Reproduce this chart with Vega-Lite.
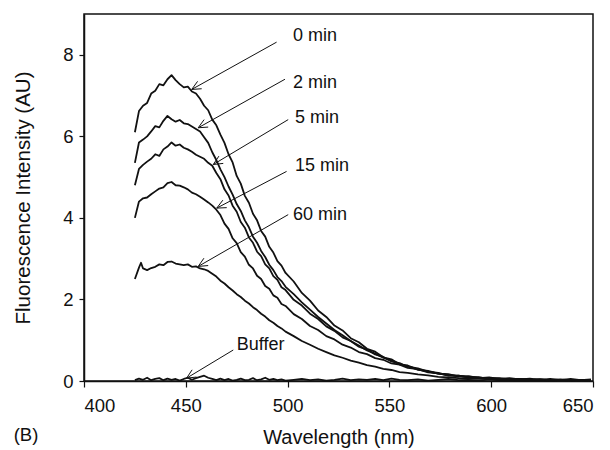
{
  "$schema": "https://vega.github.io/schema/vega-lite/v6.json",
  "width": 509,
  "height": 367,
  "autosize": {"type": "none"},
  "padding": {"left": 84, "top": 14, "right": 17, "bottom": 69},
  "background": "white",
  "title": {"text": "(B)", "orient": "bottom", "anchor": "start", "frame": "bounds", "offset": -22, "fontSize": 18.5, "fontWeight": "normal", "font": "Liberation Sans", "color": "#111"},
  "config": {
    "font": "Liberation Sans",
    "view": {"stroke": "#111", "strokeWidth": 1.5},
    "axis": {"grid": false, "domainColor": "#111", "domainWidth": 1.5, "tickColor": "#111", "tickWidth": 1.2, "tickSize": 5, "labelColor": "#111", "titleColor": "#111", "labelFontSize": 18.5, "titleFontSize": 20.5, "titleFontWeight": "normal", "labelFont": "Liberation Sans", "titleFont": "Liberation Sans"}
  },
  "datasets": {
    "spectra": [
      {"s":"A","w":425,"v":6.10},{"s":"A","w":427,"v":6.62},{"s":"A","w":429,"v":6.75},{"s":"A","w":431,"v":6.82},{"s":"A","w":433,"v":7.05},{"s":"A","w":435,"v":7.12},{"s":"A","w":437,"v":7.28},{"s":"A","w":439,"v":7.25},{"s":"A","w":441,"v":7.40},{"s":"A","w":443,"v":7.50},{"s":"A","w":445,"v":7.38},{"s":"A","w":447,"v":7.28},{"s":"A","w":449,"v":7.20},{"s":"A","w":451,"v":7.22},{"s":"A","w":453,"v":7.10},{"s":"A","w":455,"v":7.05},{"s":"A","w":457,"v":6.92},{"s":"A","w":459,"v":6.75},{"s":"A","w":461,"v":6.64},{"s":"A","w":463,"v":6.41},{"s":"A","w":465,"v":6.27},{"s":"A","w":467,"v":6.04},{"s":"A","w":469,"v":5.84},{"s":"A","w":471,"v":5.56},{"s":"A","w":473,"v":5.36},{"s":"A","w":475,"v":5.03},{"s":"A","w":477,"v":4.84},{"s":"A","w":479,"v":4.54},{"s":"A","w":481,"v":4.37},{"s":"A","w":483,"v":4.10},{"s":"A","w":485,"v":3.94},{"s":"A","w":487,"v":3.68},{"s":"A","w":489,"v":3.54},{"s":"A","w":491,"v":3.29},{"s":"A","w":493,"v":3.15},{"s":"A","w":495,"v":2.94},{"s":"A","w":497,"v":2.83},{"s":"A","w":499,"v":2.65},{"s":"A","w":503,"v":2.44},{"s":"A","w":507,"v":2.16},{"s":"A","w":511,"v":1.97},{"s":"A","w":515,"v":1.73},{"s":"A","w":519,"v":1.57},{"s":"A","w":523,"v":1.36},{"s":"A","w":527,"v":1.24},{"s":"A","w":531,"v":1.05},{"s":"A","w":535,"v":0.95},{"s":"A","w":539,"v":0.79},{"s":"A","w":543,"v":0.72},{"s":"A","w":547,"v":0.58},{"s":"A","w":551,"v":0.53},{"s":"A","w":555,"v":0.41},{"s":"A","w":559,"v":0.38},{"s":"A","w":564,"v":0.28},{"s":"A","w":569,"v":0.25},{"s":"A","w":574,"v":0.18},{"s":"A","w":579,"v":0.17},{"s":"A","w":584,"v":0.11},{"s":"A","w":589,"v":0.12},{"s":"A","w":594,"v":0.07},{"s":"A","w":599,"v":0.09},{"s":"A","w":604,"v":0.05},{"s":"A","w":609,"v":0.07},{"s":"A","w":614,"v":0.04},{"s":"A","w":619,"v":0.06},{"s":"A","w":624,"v":0.03},{"s":"A","w":629,"v":0.05},{"s":"A","w":634,"v":0.02},{"s":"A","w":639,"v":0.05},{"s":"A","w":644,"v":0.02},{"s":"A","w":649,"v":0.04},
      {"s":"B","w":425,"v":5.35},{"s":"B","w":427,"v":5.85},{"s":"B","w":429,"v":5.92},{"s":"B","w":431,"v":6.00},{"s":"B","w":433,"v":6.12},{"s":"B","w":435,"v":6.25},{"s":"B","w":437,"v":6.22},{"s":"B","w":439,"v":6.38},{"s":"B","w":441,"v":6.50},{"s":"B","w":443,"v":6.42},{"s":"B","w":445,"v":6.36},{"s":"B","w":447,"v":6.40},{"s":"B","w":449,"v":6.32},{"s":"B","w":451,"v":6.30},{"s":"B","w":453,"v":6.24},{"s":"B","w":455,"v":6.18},{"s":"B","w":457,"v":6.12},{"s":"B","w":459,"v":5.98},{"s":"B","w":461,"v":5.84},{"s":"B","w":463,"v":5.61},{"s":"B","w":465,"v":5.42},{"s":"B","w":467,"v":5.19},{"s":"B","w":469,"v":5.00},{"s":"B","w":471,"v":4.77},{"s":"B","w":473,"v":4.57},{"s":"B","w":475,"v":4.34},{"s":"B","w":477,"v":4.17},{"s":"B","w":479,"v":3.94},{"s":"B","w":481,"v":3.77},{"s":"B","w":483,"v":3.54},{"s":"B","w":485,"v":3.39},{"s":"B","w":487,"v":3.19},{"s":"B","w":489,"v":3.04},{"s":"B","w":491,"v":2.85},{"s":"B","w":493,"v":2.72},{"s":"B","w":495,"v":2.55},{"s":"B","w":497,"v":2.45},{"s":"B","w":499,"v":2.31},{"s":"B","w":503,"v":2.13},{"s":"B","w":507,"v":1.93},{"s":"B","w":511,"v":1.75},{"s":"B","w":515,"v":1.57},{"s":"B","w":519,"v":1.41},{"s":"B","w":523,"v":1.25},{"s":"B","w":527,"v":1.12},{"s":"B","w":531,"v":0.98},{"s":"B","w":535,"v":0.87},{"s":"B","w":539,"v":0.75},{"s":"B","w":543,"v":0.67},{"s":"B","w":547,"v":0.57},{"s":"B","w":551,"v":0.50},{"s":"B","w":555,"v":0.41},{"s":"B","w":559,"v":0.36},{"s":"B","w":564,"v":0.28},{"s":"B","w":569,"v":0.23},{"s":"B","w":574,"v":0.18},{"s":"B","w":579,"v":0.15},{"s":"B","w":584,"v":0.12},{"s":"B","w":589,"v":0.10},{"s":"B","w":594,"v":0.08},{"s":"B","w":599,"v":0.07},{"s":"B","w":604,"v":0.05},{"s":"B","w":609,"v":0.05},{"s":"B","w":614,"v":0.04},{"s":"B","w":619,"v":0.04},{"s":"B","w":624,"v":0.03},{"s":"B","w":629,"v":0.03},{"s":"B","w":634,"v":0.04},{"s":"B","w":639,"v":0.02},{"s":"B","w":644,"v":0.03},{"s":"B","w":649,"v":0.02},
      {"s":"C","w":425,"v":4.80},{"s":"C","w":427,"v":5.20},{"s":"C","w":429,"v":5.30},{"s":"C","w":431,"v":5.38},{"s":"C","w":433,"v":5.45},{"s":"C","w":435,"v":5.56},{"s":"C","w":437,"v":5.52},{"s":"C","w":439,"v":5.68},{"s":"C","w":441,"v":5.75},{"s":"C","w":443,"v":5.85},{"s":"C","w":445,"v":5.77},{"s":"C","w":447,"v":5.80},{"s":"C","w":449,"v":5.72},{"s":"C","w":451,"v":5.68},{"s":"C","w":453,"v":5.62},{"s":"C","w":455,"v":5.55},{"s":"C","w":457,"v":5.50},{"s":"C","w":459,"v":5.45},{"s":"C","w":461,"v":5.35},{"s":"C","w":463,"v":5.28},{"s":"C","w":465,"v":5.10},{"s":"C","w":467,"v":4.95},{"s":"C","w":469,"v":4.70},{"s":"C","w":471,"v":4.55},{"s":"C","w":473,"v":4.30},{"s":"C","w":475,"v":4.15},{"s":"C","w":477,"v":3.90},{"s":"C","w":479,"v":3.76},{"s":"C","w":481,"v":3.52},{"s":"C","w":483,"v":3.39},{"s":"C","w":485,"v":3.17},{"s":"C","w":487,"v":3.06},{"s":"C","w":489,"v":2.86},{"s":"C","w":491,"v":2.76},{"s":"C","w":493,"v":2.57},{"s":"C","w":495,"v":2.48},{"s":"C","w":497,"v":2.30},{"s":"C","w":499,"v":2.23},{"s":"C","w":503,"v":1.99},{"s":"C","w":507,"v":1.85},{"s":"C","w":511,"v":1.65},{"s":"C","w":515,"v":1.52},{"s":"C","w":519,"v":1.34},{"s":"C","w":523,"v":1.23},{"s":"C","w":527,"v":1.07},{"s":"C","w":531,"v":0.98},{"s":"C","w":535,"v":0.84},{"s":"C","w":539,"v":0.77},{"s":"C","w":543,"v":0.65},{"s":"C","w":547,"v":0.59},{"s":"C","w":551,"v":0.48},{"s":"C","w":555,"v":0.44},{"s":"C","w":559,"v":0.35},{"s":"C","w":564,"v":0.31},{"s":"C","w":569,"v":0.23},{"s":"C","w":574,"v":0.20},{"s":"C","w":579,"v":0.14},{"s":"C","w":584,"v":0.13},{"s":"C","w":589,"v":0.09},{"s":"C","w":594,"v":0.09},{"s":"C","w":599,"v":0.06},{"s":"C","w":604,"v":0.07},{"s":"C","w":609,"v":0.04},{"s":"C","w":614,"v":0.05},{"s":"C","w":619,"v":0.03},{"s":"C","w":624,"v":0.04},{"s":"C","w":629,"v":0.02},{"s":"C","w":634,"v":0.03},{"s":"C","w":639,"v":0.03},{"s":"C","w":644,"v":0.02},{"s":"C","w":649,"v":0.03},
      {"s":"D","w":425,"v":4.00},{"s":"D","w":427,"v":4.40},{"s":"D","w":429,"v":4.48},{"s":"D","w":431,"v":4.50},{"s":"D","w":433,"v":4.58},{"s":"D","w":435,"v":4.65},{"s":"D","w":437,"v":4.72},{"s":"D","w":439,"v":4.75},{"s":"D","w":441,"v":4.85},{"s":"D","w":443,"v":4.88},{"s":"D","w":445,"v":4.80},{"s":"D","w":447,"v":4.79},{"s":"D","w":449,"v":4.75},{"s":"D","w":451,"v":4.70},{"s":"D","w":453,"v":4.62},{"s":"D","w":455,"v":4.58},{"s":"D","w":457,"v":4.52},{"s":"D","w":459,"v":4.45},{"s":"D","w":461,"v":4.38},{"s":"D","w":463,"v":4.30},{"s":"D","w":465,"v":4.20},{"s":"D","w":467,"v":4.07},{"s":"D","w":469,"v":3.86},{"s":"D","w":471,"v":3.73},{"s":"D","w":473,"v":3.50},{"s":"D","w":475,"v":3.38},{"s":"D","w":477,"v":3.16},{"s":"D","w":479,"v":3.05},{"s":"D","w":481,"v":2.85},{"s":"D","w":483,"v":2.76},{"s":"D","w":485,"v":2.58},{"s":"D","w":487,"v":2.50},{"s":"D","w":489,"v":2.33},{"s":"D","w":491,"v":2.26},{"s":"D","w":493,"v":2.10},{"s":"D","w":495,"v":2.04},{"s":"D","w":497,"v":1.89},{"s":"D","w":499,"v":1.84},{"s":"D","w":503,"v":1.64},{"s":"D","w":507,"v":1.52},{"s":"D","w":511,"v":1.35},{"s":"D","w":515,"v":1.25},{"s":"D","w":519,"v":1.10},{"s":"D","w":523,"v":1.02},{"s":"D","w":527,"v":0.89},{"s":"D","w":531,"v":0.82},{"s":"D","w":535,"v":0.71},{"s":"D","w":539,"v":0.66},{"s":"D","w":543,"v":0.56},{"s":"D","w":547,"v":0.52},{"s":"D","w":551,"v":0.43},{"s":"D","w":555,"v":0.40},{"s":"D","w":559,"v":0.32},{"s":"D","w":564,"v":0.29},{"s":"D","w":569,"v":0.21},{"s":"D","w":574,"v":0.19},{"s":"D","w":579,"v":0.13},{"s":"D","w":584,"v":0.13},{"s":"D","w":589,"v":0.08},{"s":"D","w":594,"v":0.09},{"s":"D","w":599,"v":0.05},{"s":"D","w":604,"v":0.06},{"s":"D","w":609,"v":0.03},{"s":"D","w":614,"v":0.05},{"s":"D","w":619,"v":0.02},{"s":"D","w":624,"v":0.04},{"s":"D","w":629,"v":0.02},{"s":"D","w":634,"v":0.03},{"s":"D","w":639,"v":0.01},{"s":"D","w":644,"v":0.03},{"s":"D","w":649,"v":0.02},
      {"s":"E","w":425,"v":2.50},{"s":"E","w":427,"v":2.78},{"s":"E","w":428,"v":2.90},{"s":"E","w":429,"v":2.76},{"s":"E","w":431,"v":2.72},{"s":"E","w":433,"v":2.77},{"s":"E","w":435,"v":2.80},{"s":"E","w":437,"v":2.86},{"s":"E","w":439,"v":2.84},{"s":"E","w":441,"v":2.92},{"s":"E","w":443,"v":2.93},{"s":"E","w":445,"v":2.88},{"s":"E","w":447,"v":2.86},{"s":"E","w":449,"v":2.84},{"s":"E","w":451,"v":2.86},{"s":"E","w":453,"v":2.80},{"s":"E","w":455,"v":2.81},{"s":"E","w":457,"v":2.76},{"s":"E","w":459,"v":2.74},{"s":"E","w":461,"v":2.70},{"s":"E","w":463,"v":2.63},{"s":"E","w":465,"v":2.56},{"s":"E","w":467,"v":2.46},{"s":"E","w":469,"v":2.39},{"s":"E","w":471,"v":2.30},{"s":"E","w":473,"v":2.22},{"s":"E","w":475,"v":2.13},{"s":"E","w":477,"v":2.06},{"s":"E","w":479,"v":1.97},{"s":"E","w":481,"v":1.90},{"s":"E","w":483,"v":1.81},{"s":"E","w":485,"v":1.74},{"s":"E","w":487,"v":1.65},{"s":"E","w":489,"v":1.58},{"s":"E","w":491,"v":1.49},{"s":"E","w":493,"v":1.43},{"s":"E","w":495,"v":1.35},{"s":"E","w":497,"v":1.29},{"s":"E","w":499,"v":1.21},{"s":"E","w":503,"v":1.10},{"s":"E","w":507,"v":0.98},{"s":"E","w":511,"v":0.89},{"s":"E","w":515,"v":0.79},{"s":"E","w":519,"v":0.71},{"s":"E","w":523,"v":0.63},{"s":"E","w":527,"v":0.57},{"s":"E","w":531,"v":0.50},{"s":"E","w":535,"v":0.45},{"s":"E","w":539,"v":0.39},{"s":"E","w":543,"v":0.35},{"s":"E","w":547,"v":0.30},{"s":"E","w":551,"v":0.27},{"s":"E","w":555,"v":0.22},{"s":"E","w":559,"v":0.20},{"s":"E","w":564,"v":0.16},{"s":"E","w":569,"v":0.14},{"s":"E","w":574,"v":0.10},{"s":"E","w":579,"v":0.09},{"s":"E","w":584,"v":0.07},{"s":"E","w":589,"v":0.06},{"s":"E","w":594,"v":0.05},{"s":"E","w":599,"v":0.05},{"s":"E","w":604,"v":0.03},{"s":"E","w":609,"v":0.03},{"s":"E","w":614,"v":0.04},{"s":"E","w":619,"v":0.02},{"s":"E","w":624,"v":0.03},{"s":"E","w":629,"v":0.01},{"s":"E","w":634,"v":0.03},{"s":"E","w":639,"v":0.02},{"s":"E","w":644,"v":0.01},{"s":"E","w":649,"v":0.02},
      {"s":"F","w":425,"v":0.02},{"s":"F","w":427,"v":0.06},{"s":"F","w":429,"v":0.03},{"s":"F","w":431,"v":0.08},{"s":"F","w":433,"v":0.02},{"s":"F","w":435,"v":0.05},{"s":"F","w":437,"v":0.07},{"s":"F","w":439,"v":0.02},{"s":"F","w":441,"v":0.06},{"s":"F","w":443,"v":0.03},{"s":"F","w":445,"v":0.05},{"s":"F","w":447,"v":0.01},{"s":"F","w":449,"v":0.05},{"s":"F","w":451,"v":0.08},{"s":"F","w":453,"v":0.03},{"s":"F","w":455,"v":0.07},{"s":"F","w":457,"v":0.10},{"s":"F","w":459,"v":0.13},{"s":"F","w":461,"v":0.08},{"s":"F","w":463,"v":0.05},{"s":"F","w":465,"v":0.02},{"s":"F","w":467,"v":0.06},{"s":"F","w":469,"v":0.02},{"s":"F","w":471,"v":0.05},{"s":"F","w":473,"v":0.01},{"s":"F","w":475,"v":0.03},{"s":"F","w":477,"v":0.06},{"s":"F","w":479,"v":0.02},{"s":"F","w":481,"v":0.03},{"s":"F","w":483,"v":0.07},{"s":"F","w":485,"v":0.02},{"s":"F","w":487,"v":0.04},{"s":"F","w":489,"v":0.08},{"s":"F","w":491,"v":0.03},{"s":"F","w":493,"v":0.05},{"s":"F","w":495,"v":0.02},{"s":"F","w":497,"v":0.04},{"s":"F","w":499,"v":0.01},{"s":"F","w":503,"v":0.03},{"s":"F","w":507,"v":0.05},{"s":"F","w":511,"v":0.02},{"s":"F","w":515,"v":0.04},{"s":"F","w":519,"v":0.01},{"s":"F","w":523,"v":0.03},{"s":"F","w":527,"v":0.06},{"s":"F","w":531,"v":0.02},{"s":"F","w":535,"v":0.04},{"s":"F","w":539,"v":0.03},{"s":"F","w":543,"v":0.05},{"s":"F","w":547,"v":0.02},{"s":"F","w":551,"v":0.06},{"s":"F","w":555,"v":0.03},{"s":"F","w":559,"v":0.02},{"s":"F","w":564,"v":0.04},{"s":"F","w":569,"v":0.01},{"s":"F","w":574,"v":0.03},{"s":"F","w":579,"v":0.05},{"s":"F","w":584,"v":0.02},{"s":"F","w":589,"v":0.03},{"s":"F","w":594,"v":0.01},{"s":"F","w":599,"v":0.04},{"s":"F","w":604,"v":0.02},{"s":"F","w":609,"v":0.03},{"s":"F","w":614,"v":0.01},{"s":"F","w":619,"v":0.02},{"s":"F","w":624,"v":0.04},{"s":"F","w":629,"v":0.01},{"s":"F","w":634,"v":0.03},{"s":"F","w":639,"v":0.02},{"s":"F","w":644,"v":0.01},{"s":"F","w":649,"v":0.02}
    ],
    "arrows": [
      {"x":494.6,"y":8.31,"x2":452.9,"y2":7.15},{"x":452.9,"y":7.15,"x2":457.8,"y2":7.167},{"x":452.9,"y":7.15,"x2":455.8,"y2":7.349},
      {"x":498.7,"y":7.40,"x2":456.1,"y2":6.21},{"x":456.1,"y":6.21,"x2":461.0,"y2":6.227},{"x":456.1,"y":6.21,"x2":459.0,"y2":6.41},
      {"x":500.3,"y":6.41,"x2":463.5,"y2":5.31},{"x":463.5,"y":5.31,"x2":468.4,"y2":5.336},{"x":463.5,"y":5.31,"x2":466.25,"y2":5.514},
      {"x":499.5,"y":5.14,"x2":465.2,"y2":4.24},{"x":465.2,"y":4.24,"x2":470.1,"y2":4.251},{"x":465.2,"y":4.24,"x2":468.2,"y2":4.435},
      {"x":500.3,"y":4.08,"x2":456.1,"y2":2.81},{"x":456.1,"y":2.81,"x2":461.0,"y2":2.831},{"x":456.1,"y":2.81,"x2":458.9,"y2":3.011},
      {"x":473.3,"y":0.76,"x2":450.4,"y2":0.07},{"x":450.4,"y":0.07,"x2":455.3,"y2":0.097},{"x":450.4,"y":0.07,"x2":453.1,"y2":0.274}
    ],
    "labels": [
      {"x":502.6,"y":8.45,"t":"0 min"},
      {"x":502.6,"y":7.32,"t":"2 min"},
      {"x":503.6,"y":6.45,"t":"5 min"},
      {"x":503.6,"y":5.27,"t":"15 min"},
      {"x":502.6,"y":4.08,"t":"60 min"},
      {"x":475.0,"y":0.88,"t":"Buffer"}
    ]
  },
  "layer": [
    {
      "data": {"name": "spectra"},
      "mark": {"type": "line", "color": "#111", "strokeWidth": 1.8, "strokeJoin": "round"},
      "encoding": {
        "x": {"field": "w", "type": "quantitative", "scale": {"domain": [400, 650], "nice": false, "zero": false}, "axis": {"values": [400, 450, 500, 550, 600, 650], "title": "Wavelength (nm)", "labelPadding": 9, "titlePadding": 13, "titleFontSize": 20, "tickSize": 6}},
        "y": {"field": "v", "type": "quantitative", "scale": {"domain": [0, 9], "nice": false}, "axis": {"values": [0, 2, 4, 6, 8], "title": "Fluorescence Intensity (AU)", "labelPadding": 6, "titlePadding": 29}},
        "detail": {"field": "s"}
      }
    },
    {
      "data": {"name": "arrows"},
      "mark": {"type": "rule", "color": "#111", "strokeWidth": 1},
      "encoding": {
        "x": {"field": "x", "type": "quantitative", "scale": {"domain": [400, 650], "nice": false, "zero": false}},
        "y": {"field": "y", "type": "quantitative", "scale": {"domain": [0, 9], "nice": false}},
        "x2": {"field": "x2"},
        "y2": {"field": "y2"}
      }
    },
    {
      "data": {"name": "labels"},
      "mark": {"type": "text", "align": "left", "baseline": "middle", "fontSize": 18, "color": "#111", "font": "Liberation Sans"},
      "encoding": {
        "x": {"field": "x", "type": "quantitative", "scale": {"domain": [400, 650], "nice": false, "zero": false}},
        "y": {"field": "y", "type": "quantitative", "scale": {"domain": [0, 9], "nice": false}},
        "text": {"field": "t"}
      }
    }
  ]
}
